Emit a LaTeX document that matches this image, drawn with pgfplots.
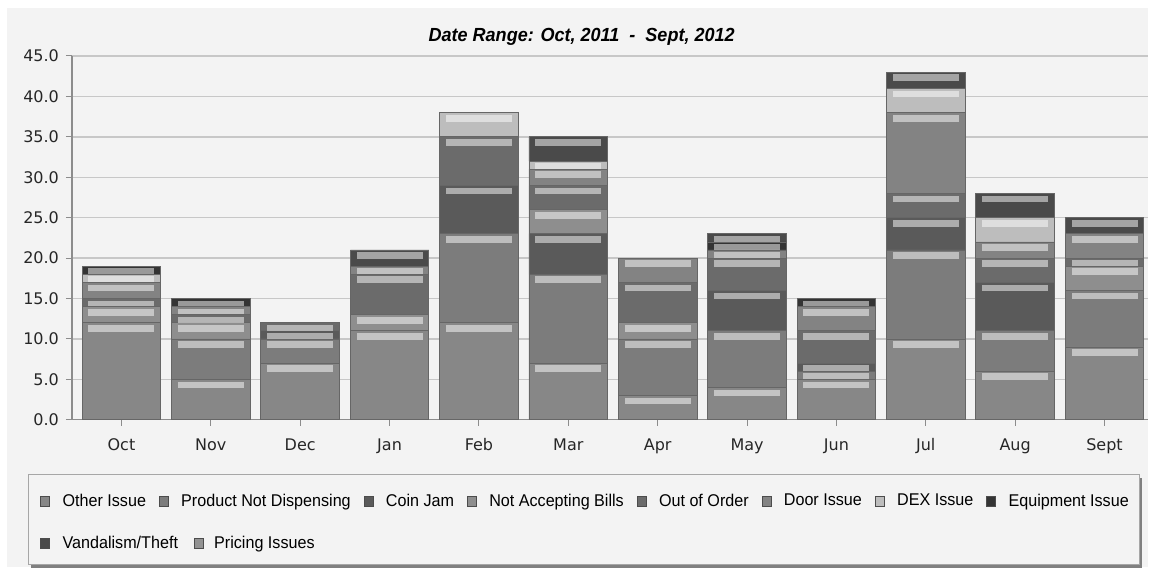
\documentclass[border=0pt]{standalone}
\usepackage{fontspec}
\setmainfont{Liberation Sans}
\newfontfamily\tickfont{DejaVu Sans}
\newfontfamily\legfont{Liberation Sans}[FakeStretch=0.95]
\newfontfamily\titlefont{Liberation Sans}[FakeStretch=0.95]
\usepackage{pgfplots}
\usepackage{pgfplotstable}
\pgfplotsset{compat=1.18}

\definecolor{bgc}{HTML}{F3F3F3}
\definecolor{cOther}{HTML}{878787}
\definecolor{cProduct}{HTML}{7C7C7C}
\definecolor{cCoin}{HTML}{5A5A5A}
\definecolor{cNotAcc}{HTML}{8E8E8E}
\definecolor{cOOO}{HTML}{6B6B6B}
\definecolor{cDoor}{HTML}{838383}
\definecolor{cDEX}{HTML}{BDBDBD}
\definecolor{cEquip}{HTML}{343434}
\definecolor{cVand}{HTML}{4A4A4A}
\definecolor{cPricing}{HTML}{929292}

\pgfplotsset{
  seg/.style={draw=black!60, line width=0.4pt, fill=#1},
  shiftedlegend/.style={legend image code/.code={\path[##1, overlay, draw=black!70] (17.5pt,-2.5pt) rectangle (22pt,2.5pt);}},
}

\pgfplotstableread{
x Other Product Coin NotAcc OOO Door DEX Equip Vand Pricing
0  12 0  0 2 1 2  1 1 0 0
1  5  5  0 2 1 1  0 1 0 0
2  7  3  1 0 1 0  0 0 0 0
3  11 0  0 2 5 1  0 0 2 0
4  12 11 6 0 6 0  3 0 0 0
5  7  11 5 3 3 2  1 0 3 0
6  3  7  0 2 5 3  0 0 0 0
7  4  7  5 0 4 1  0 1 1 0
8  5  1  1 0 4 3  0 1 0 0
9  10 11 4 0 3 10 3 0 2 0
10 6  5  6 0 3 2  3 0 3 0
11 9  7  0 3 1 3  0 0 2 0
}\datatable

\begin{document}
\begin{tikzpicture}
\fill[white] (0,0) rectangle (574.5pt,287pt);
\fill[bgc] (3.5pt,3.5pt) rectangle (574.5pt,283pt);
% legend frame
\fill[black!50] (15.5pt,3pt) rectangle (571.5pt,48pt);
\draw[black!35, fill=bgc] (14pt,4.5pt) rectangle (570pt,49.5pt);
\node[font=\titlefont\bfseries\itshape\fontsize{9.5}{11}\selectfont] at (291pt,268.5pt) {Date Range: Oct, 2011~~-~~Sept, 2012};
\begin{axis}[
  at={(36pt,77pt)}, anchor=south west,
  width=538.5pt, height=182pt, scale only axis,
  ybar stacked, bar width=0.88,
  xmin=-0.554, xmax=11.49, ymin=0, ymax=45,
  axis x line*=bottom, axis y line*=left,
  axis line style={black!45, line width=0.6pt},
  xtick={0,...,11},
  xticklabels={Oct,Nov,Dec,Jan,Feb,Mar,Apr,May,Jun,Jul,Aug,Sept},
  ytick={0,5,...,45},
  tick align=outside, major tick length=3pt,
  tick style={black!45, line width=0.5pt},
  ymajorgrids, grid style={black!22, line width=0.7pt},
  /pgf/number format/assume math mode=true,
  yticklabel style={/pgf/number format/.cd, fixed, fixed zerofill, precision=1},
  xticklabel style={yshift=-3pt},
  tick label style={font=\tickfont\fontsize{8}{9.6}\selectfont, text=black!85},
  visualization depends on={rawy \as \rawy},
  nodes near coords={},
  every node near coord/.style={rectangle, inner sep=0pt, minimum width=33pt,
    minimum height={max(0.05,min(3.4,0.7*4.044*\rawy))*1pt},
    fill=white, fill opacity=0.5, draw=none, anchor=north,
    yshift={(0.5*4.044*\rawy-0.9)*1pt}},
  legend columns=8,
  legend cell align=left,
  legend style={at={(axis description cs:-0.0297,-0.1918)}, anchor=north west,
    draw=none, fill=none, inner sep=0pt,
    font=\legfont\fontsize{8.5}{10}\selectfont,
    /tikz/row sep=9.5pt,
    /tikz/every odd column/.append style={column sep=4.2pt},
    /tikz/every even column/.append style={column sep=4.5pt}},
  legend image code/.code={\path[#1, draw=black!70] (0pt,-2.5pt) rectangle (4.5pt,2.5pt);},
  clip=true,
]
\addplot[seg=cOther] table[x=x,y=Other]{\datatable};
\addlegendentry{Other Issue}
\addplot[seg=cProduct] table[x=x,y=Product]{\datatable};
\addlegendentry{Product Not Dispensing}
\addplot[seg=cCoin] table[x=x,y=Coin]{\datatable};
\addlegendentry{Coin Jam}
\addplot[seg=cNotAcc] table[x=x,y=NotAcc]{\datatable};
\addlegendentry{Not Accepting Bills}
\addplot[seg=cOOO] table[x=x,y=OOO]{\datatable};
\addlegendentry{Out of Order}
\addplot[seg=cDoor] table[x=x,y=Door]{\datatable};
\addlegendentry{Door Issue}
\addplot[seg=cDEX] table[x=x,y=DEX]{\datatable};
\addlegendentry{DEX Issue}
\addplot[seg=cEquip] table[x=x,y=Equip]{\datatable};
\addlegendentry{Equipment Issue}
\addplot[seg=cVand] table[x=x,y=Vand]{\datatable};
\addlegendentry{\rlap{Vandalism/Theft}}
\addplot[seg=cPricing, shiftedlegend] table[x=x,y=Pricing]{\datatable};
\addlegendentry{\hspace*{16.5pt}Pricing Issues}
\end{axis}
\end{tikzpicture}
\end{document}
